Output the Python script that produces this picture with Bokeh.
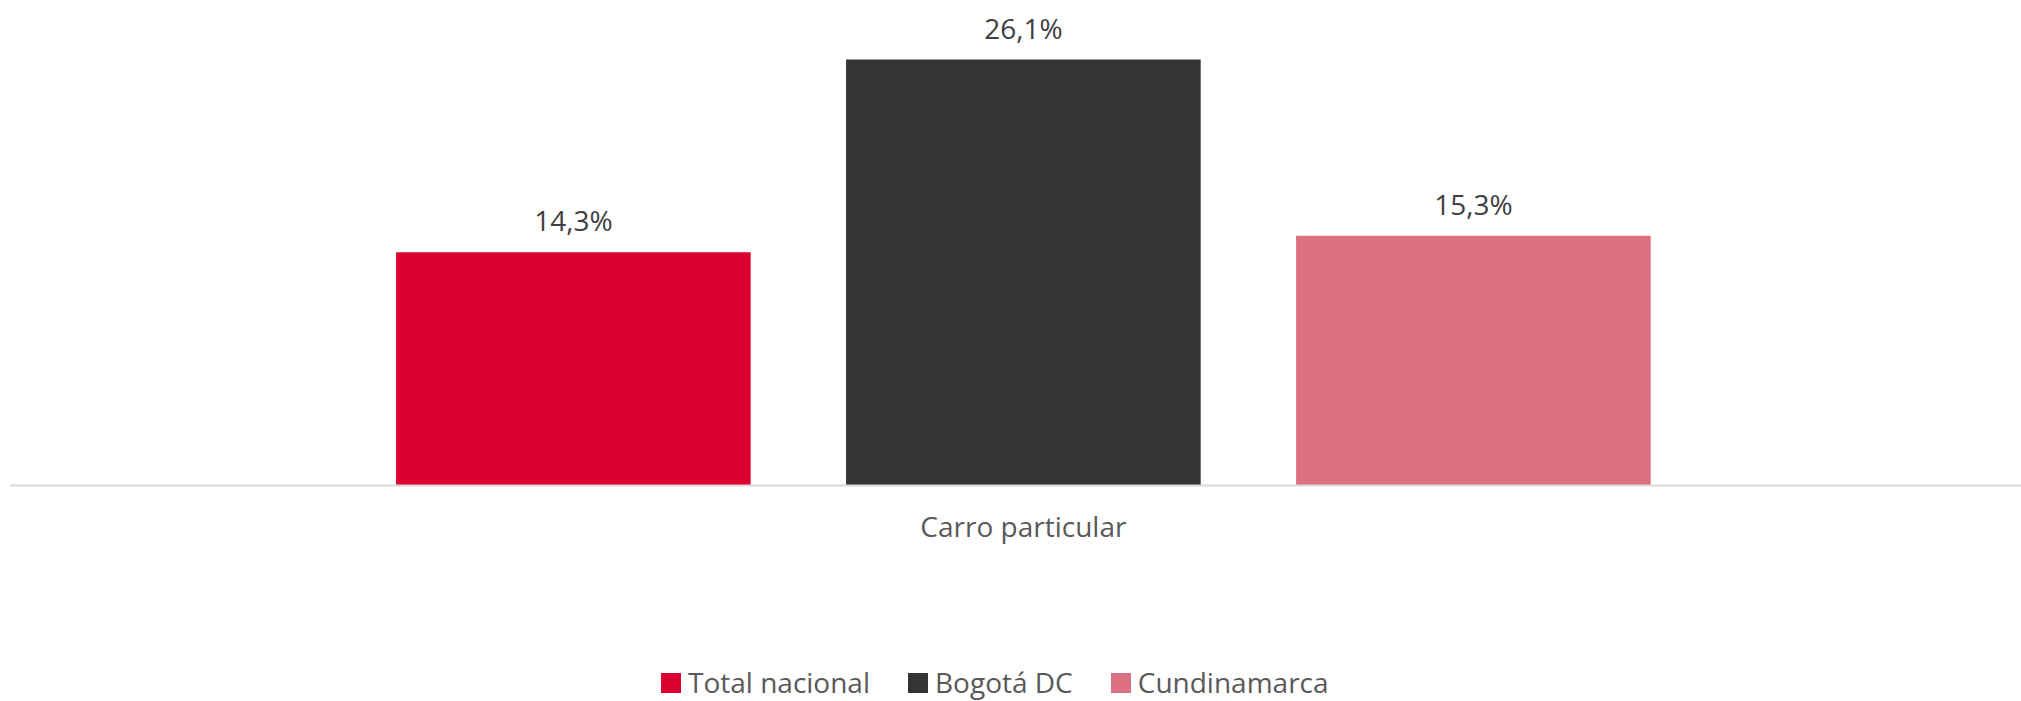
from bokeh.plotting import figure
from bokeh.models import Range1d, FixedTicker, ColumnDataSource, Legend, LegendItem
from bokeh.core.properties import value, field
from bokeh.embed import file_html
from bokeh.resources import INLINE

category = "Carro particular"
series = ["Total nacional", "Bogotá DC", "Cundinamarca"]
values = [14.3, 26.1, 15.3]
colors = ["#DC0032", "#343432", "#DB7180"]

labels = [f"{v:.1f}%".replace(".", ",") for v in values]
xpos = [i - (len(series) - 1) / 2 for i in range(len(series))]

src = ColumnDataSource(dict(x=xpos, value=values, series=series, color=colors, label=labels))

p = figure(width=2021, height=701, output_backend="svg", toolbar_location=None,
           x_range=Range1d(-2.253, 2.218), y_range=Range1d(-13.235, 29.72),
           min_border_left=9, min_border_right=0, min_border_top=0, min_border_bottom=0)

bars = p.vbar(x="x", top="value", bottom=0, width=0.788, fill_color="color",
              line_color=None, source=src)
p.text(x="x", y="value", text="label", source=src, text_align="center",
       text_baseline="middle", y_offset=-32, text_font=value("Open Sans"),
       text_font_size="28px", text_color="#404040")

p.yaxis.visible = False
p.xgrid.visible = False
p.ygrid.visible = False
p.outline_line_color = None

ax = p.xaxis[0]
ax.fixed_location = 0
ax.ticker = FixedTicker(ticks=[0])
ax.major_label_overrides = {0: category}
ax.axis_line_color = "#d9d9d9"
ax.axis_line_width = 2
ax.major_tick_line_color = None
ax.minor_tick_line_color = None
ax.major_label_text_font = "Open Sans"
ax.major_label_text_font_size = "28px"
ax.major_label_text_color = "#595959"
ax.major_label_standoff = 15

lg = Legend(items=[LegendItem(label=field("series"), renderers=[bars])])
lg.orientation = "horizontal"
lg.location = (649, 0)
lg.padding = 0
lg.margin = 0
lg.spacing = 35
lg.label_standoff = 5
lg.glyph_width = 25
lg.glyph_height = 25
lg.label_text_font = "Open Sans"
lg.label_text_font_size = "28px"
lg.label_text_color = "#595959"
lg.border_line_color = None
lg.background_fill_alpha = 0
p.add_layout(lg, "center")

open("out.html", "w").write(file_html(p, INLINE))
